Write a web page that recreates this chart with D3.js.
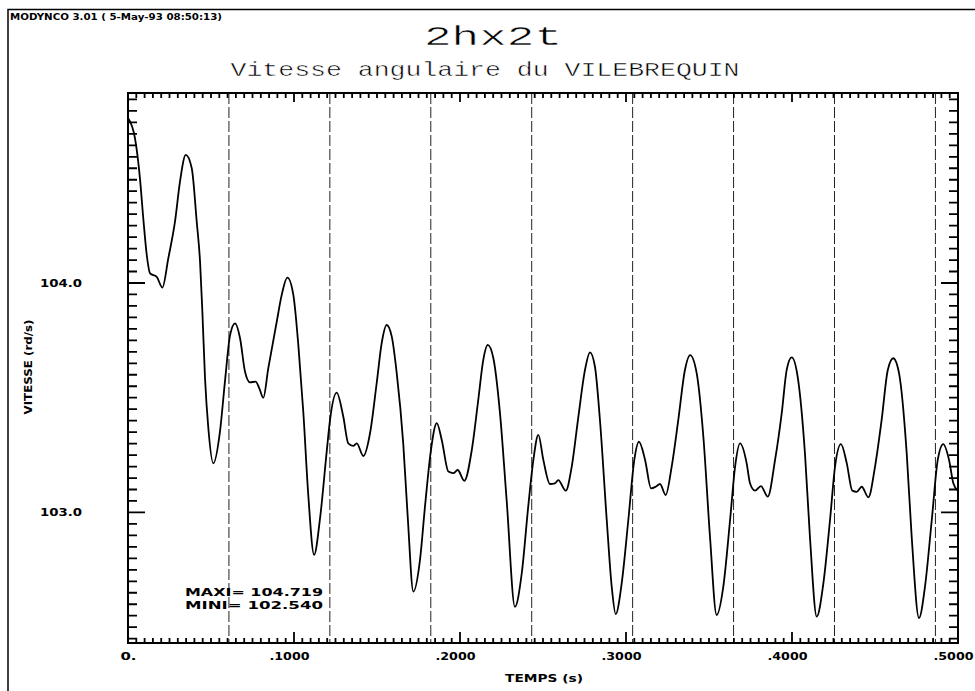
<!DOCTYPE html>
<html>

<head>
  <title>2hx2t</title>
  <meta charset="utf-8">
  <script src="https://cdn.jsdelivr.net/npm/d3@7"></script>
  <style>
    body {
      margin: 0;
      background: #fff;
    }

    .lbl {
      font-family: "DejaVu Sans", sans-serif;
      font-weight: bold;
      fill: #000;
    }

    .titre {
      font-family: "Liberation Mono", monospace;
      fill: #000;
      stroke: #fff;
      stroke-width: 0.5;
    }
  </style>
</head>

<body>
  <svg width="975" height="691"></svg>
  <script>
    // vitesse angulaire du vilebrequin
    var temps = [
      0, 0.0042, 0.0072, 0.0092, 0.0113, 0.0133, 0.0173, 0.0207, 0.0243, 0.0283,
      0.0313, 0.0348, 0.0384, 0.0414, 0.0434, 0.0448, 0.0464, 0.0484, 0.0514, 0.0554,
      0.0584, 0.0615, 0.0645, 0.0675, 0.0705, 0.0735, 0.0769, 0.0791, 0.0815, 0.0845,
      0.0896, 0.0926, 0.0960, 0.0996, 0.1026, 0.1056, 0.1086, 0.1121, 0.1157, 0.1197,
      0.1217, 0.1257, 0.1297, 0.1327, 0.1357, 0.1378, 0.1418, 0.1458, 0.1498, 0.1528,
      0.1558, 0.1589, 0.1619, 0.1658, 0.1685, 0.1719, 0.1759, 0.1789, 0.1825, 0.1860,
      0.1890, 0.1930, 0.1960, 0.1986, 0.2026, 0.2071, 0.2110, 0.2140, 0.2167, 0.2201,
      0.2241, 0.2281, 0.2331, 0.2372, 0.2411, 0.2442, 0.2472, 0.2502, 0.2542, 0.2572,
      0.2592, 0.2637, 0.2673, 0.2713, 0.2753, 0.2783, 0.2813, 0.2843, 0.2884, 0.2914,
      0.2938, 0.2974, 0.3014, 0.3050, 0.3078, 0.3115, 0.3151, 0.3179, 0.3205, 0.3239,
      0.3275, 0.3315, 0.3355, 0.3386, 0.3426, 0.3466, 0.3506, 0.3546, 0.3586, 0.3627,
      0.3657, 0.3687, 0.3727, 0.3747, 0.3777, 0.3813, 0.3854, 0.3898, 0.3938, 0.3968,
      0.3998, 0.4034, 0.4078, 0.4108, 0.4149, 0.4189, 0.4229, 0.4259, 0.4295, 0.4330,
      0.4363, 0.4390, 0.4420, 0.4460, 0.4500, 0.4540, 0.4577, 0.4610, 0.4645, 0.4691,
      0.4721, 0.4765, 0.4801, 0.4842, 0.4878, 0.4911, 0.4946, 0.4972, 0.4998
    ];
    var vitesse = [
      104.719, 104.631, 104.456, 104.282, 104.122, 104.042, 104.027, 103.980, 104.108, 104.267,
      104.441, 104.558, 104.500, 104.267, 104.093, 103.875, 103.585, 103.367, 103.214, 103.352,
      103.570, 103.773, 103.824, 103.759, 103.613, 103.567, 103.570, 103.541, 103.500, 103.628,
      103.831, 103.948, 104.023, 103.948, 103.730, 103.439, 103.076, 102.815, 102.975, 103.265,
      103.403, 103.522, 103.417, 103.301, 103.290, 103.301, 103.246, 103.345, 103.563, 103.737,
      103.817, 103.766, 103.606, 103.301, 102.981, 102.655, 102.793, 103.025, 103.272, 103.389,
      103.316, 103.178, 103.171, 103.185, 103.138, 103.272, 103.490, 103.664, 103.730, 103.672,
      103.432, 103.054, 102.589, 102.735, 103.025, 103.229, 103.338, 103.229, 103.124, 103.127,
      103.141, 103.095, 103.199, 103.417, 103.621, 103.698, 103.635, 103.403, 102.967, 102.676,
      102.557, 102.691, 102.967, 103.229, 103.308, 103.229, 103.105, 103.112, 103.124, 103.076,
      103.199, 103.403, 103.621, 103.686, 103.606, 103.330, 102.894, 102.553, 102.676, 102.967,
      103.199, 103.301, 103.214, 103.127, 103.095, 103.115, 103.069, 103.229, 103.432, 103.621,
      103.676, 103.592, 103.258, 102.894, 102.546, 102.691, 102.967, 103.199, 103.298, 103.214,
      103.095, 103.090, 103.112, 103.066, 103.199, 103.403, 103.621, 103.672, 103.606, 103.258,
      102.894, 102.540, 102.676, 102.967, 103.229, 103.298, 103.229, 103.127, 103.095
    ];
    // un trait tireté par tour de vilebrequin
    var tours = [0.0608, 0.1216, 0.1824, 0.2432, 0.3040, 0.3648, 0.4256, 0.4864];
    var xTicks = [0, 0.1, 0.2, 0.3, 0.4, 0.5];
    var yTicks = [103.0, 104.0];
    var entete = "MODYNCO 3.01 ( 5-May-93  08:50:13)";

    var svg = d3.select("svg"),
      margin = {
        top: 93,
        right: 17,
        bottom: 48,
        left: 128
      },
      width = +svg.attr("width") - margin.left - margin.right,
      height = +svg.attr("height") - margin.top - margin.bottom;

    var vmax = d3.max(vitesse),
      vmin = d3.min(vitesse),
      pad = (vmax - vmin) * 0.05;

    var x = d3.scaleLinear().domain([0, 0.5]).range([0, width]),
      y = d3.scaleLinear().domain([vmin - pad, vmax + pad]).range([height, 0]);

    // cadre de la page
    svg.append("path")
      .attr("d", "M8,691V9.5H975")
      .attr("fill", "none")
      .attr("stroke", "#000")
      .attr("stroke-width", 1.5);

    svg.append("text")
      .attr("class", "lbl")
      .attr("x", 10)
      .attr("y", 20)
      .attr("font-size", 8)
      .attr("textLength", 212)
      .attr("lengthAdjust", "spacingAndGlyphs")
      .text(entete);

    svg.append("text")
      .attr("class", "titre")
      .attr("x", 493)
      .attr("y", 45)
      .attr("text-anchor", "middle")
      .attr("font-size", 28)
      .attr("textLength", 138)
      .attr("lengthAdjust", "spacingAndGlyphs")
      .text("2hx2t");

    svg.append("text")
      .attr("class", "titre")
      .attr("x", 485)
      .attr("y", 76)
      .attr("text-anchor", "middle")
      .attr("font-size", 21)
      .attr("textLength", 509)
      .attr("lengthAdjust", "spacingAndGlyphs")
      .text("Vitesse angulaire du VILEBREQUIN");

    var g = svg.append("g")
      .attr("transform", "translate(" + margin.left + "," + margin.top + ")");

    var xMinor = d3.range(0, 101).map(function(i) { return i * 0.005; }),
      yMinor = d3.range(Math.ceil(y.domain()[0] / 0.05), Math.floor(y.domain()[1] / 0.05) + 1)
        .map(function(i) { return i * 0.05; });

    var majeur = function(liste) {
      return function(d) {
        return liste.some(function(t) { return Math.abs(t - d) < 1e-9; });
      };
    };
    var xMaj = majeur(xTicks),
      yMaj = majeur(yTicks);

    var fmtX = function(d) {
      return d === 0 ? "0." : d3.format(".4f")(d).replace(/^0/, "");
    };

    // libellés des axes
    g.append("g")
      .attr("transform", "translate(0," + height + ")")
      .call(d3.axisBottom(x).tickValues(xTicks).tickSize(0).tickPadding(10).tickFormat(fmtX))
      .call(function(s) { s.select(".domain").remove(); })
      .selectAll("text")
      .attr("class", "lbl")
      .attr("font-size", 10)
      .attr("dx", function(d) { return d === 0 ? 0 : -5; })
      .attr("textLength", function(d) { return fmtX(d).length * 8; })
      .attr("lengthAdjust", "spacingAndGlyphs");

    g.append("g")
      .call(d3.axisLeft(y).tickValues(yTicks).tickSize(0).tickPadding(46).tickFormat(d3.format(".1f")))
      .call(function(s) { s.select(".domain").remove(); })
      .selectAll("text")
      .attr("class", "lbl")
      .attr("font-size", 10)
      .attr("textLength", 42)
      .attr("lengthAdjust", "spacingAndGlyphs");

    g.selectAll(".tour")
      .data(tours)
      .enter().append("line")
      .attr("class", "tour")
      .attr("x1", function(d) { return x(d); })
      .attr("x2", function(d) { return x(d); })
      .attr("y1", 0)
      .attr("y2", height)
      .attr("stroke", "#222")
      .attr("stroke-width", 1)
      .attr("stroke-dasharray", "11,3");

    var line = d3.line()
      .x(function(d, i) { return x(temps[i]); })
      .y(function(d) { return y(d); })
      .curve(d3.curveMonotoneX);

    g.append("path")
      .datum(vitesse)
      .attr("fill", "none")
      .attr("stroke", "#000")
      .attr("stroke-width", 1.8)
      .attr("d", line);

    g.append("rect")
      .attr("width", width)
      .attr("height", height)
      .attr("fill", "none")
      .attr("stroke", "#000")
      .attr("stroke-width", 2);

    // graduations, vers l'intérieur du cadre : un seul tracé par côté
    var pathX = function(y0, sens, court, long) {
      return xMinor.map(function(d) {
        return "M" + x(d) + "," + y0 + "v" + sens * (xMaj(d) ? long : court);
      }).join("");
    };
    var pathY = function(x0, sens, court, long) {
      return yMinor.map(function(d) {
        return "M" + x0 + "," + y(d) + "h" + sens * (yMaj(d) ? long : court);
      }).join("");
    };

    g.selectAll(".graduation")
      .data([
        pathX(height, -1, 5, 11),
        pathX(0, 1, 5, 9),
        pathY(0, 1, 9, 17),
        pathY(width, -1, 9, 17)
      ])
      .enter().append("path")
      .attr("class", "graduation")
      .attr("d", function(d) { return d; })
      .attr("fill", "none")
      .attr("stroke", "#000")
      .attr("stroke-width", 1.8);

    g.append("text")
      .attr("class", "lbl")
      .attr("x", 57)
      .attr("y", 503)
      .attr("font-size", 10)
      .attr("textLength", 138)
      .attr("lengthAdjust", "spacingAndGlyphs")
      .text("MAXI= " + d3.format(".3f")(vmax));
    g.append("text")
      .attr("class", "lbl")
      .attr("x", 57)
      .attr("y", 516)
      .attr("font-size", 10)
      .attr("textLength", 138)
      .attr("lengthAdjust", "spacingAndGlyphs")
      .text("MINI= " + d3.format(".3f")(vmin));

    // titres des axes
    svg.append("text")
      .attr("class", "lbl")
      .attr("transform", "translate(32,367) rotate(-90)")
      .attr("text-anchor", "middle")
      .attr("font-size", 11)
      .attr("textLength", 95)
      .attr("lengthAdjust", "spacingAndGlyphs")
      .text("VITESSE (rd/s)");

    svg.append("text")
      .attr("class", "lbl")
      .attr("x", 544)
      .attr("y", 682)
      .attr("text-anchor", "middle")
      .attr("font-size", 10)
      .attr("textLength", 78)
      .attr("lengthAdjust", "spacingAndGlyphs")
      .text("TEMPS (s)");
  </script>
</body>

</html>
